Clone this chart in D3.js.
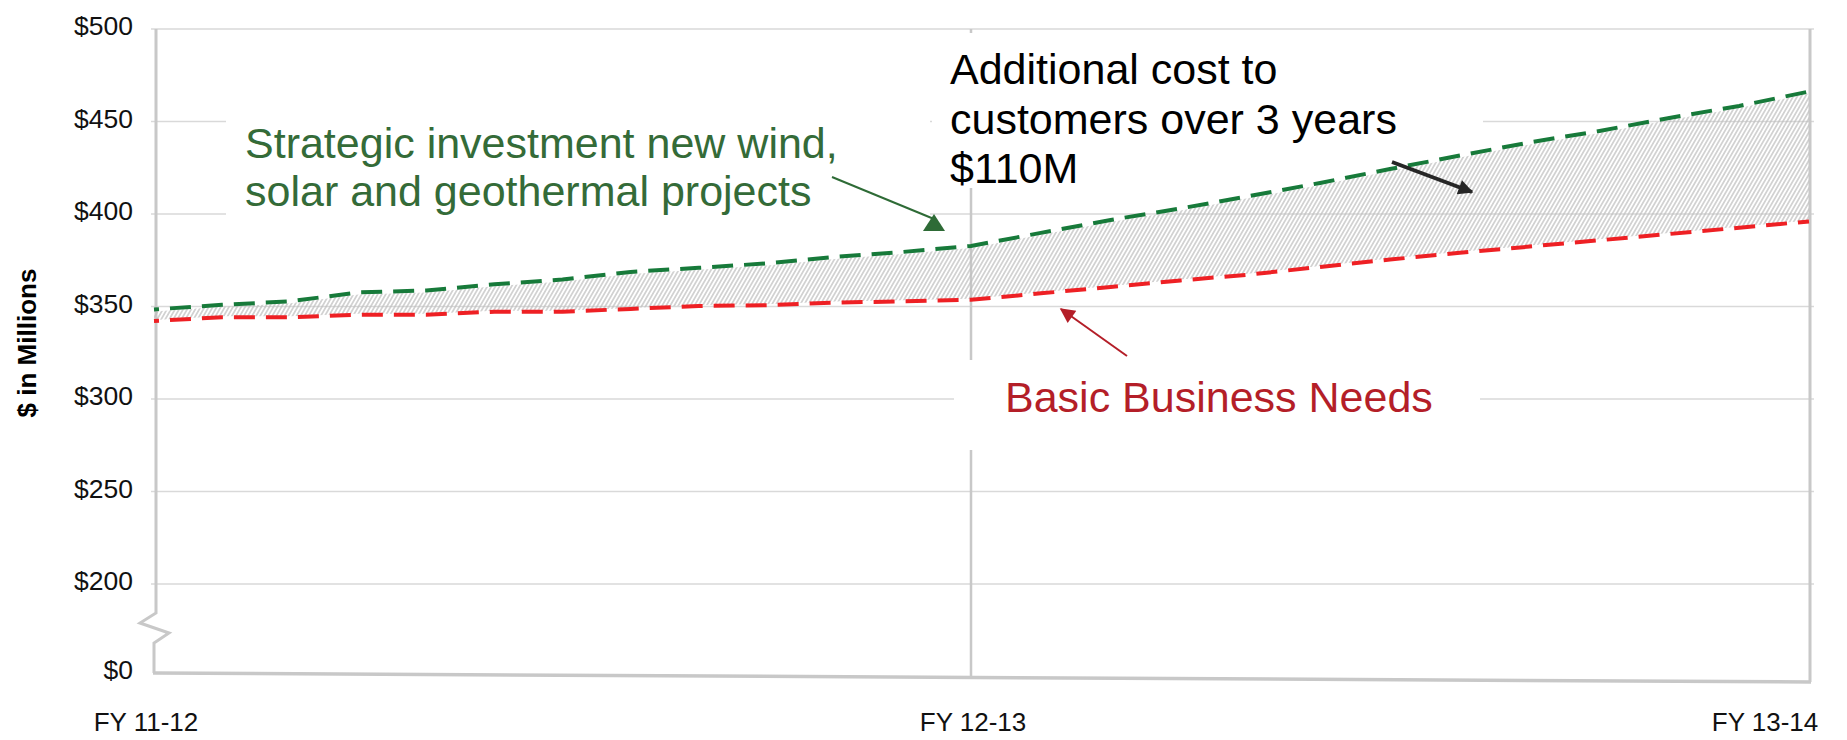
<!DOCTYPE html>
<html>
<head>
<meta charset="utf-8">
<script src="https://cdn.jsdelivr.net/npm/d3@7"></script>
<style>
  body { margin: 0; background: #fff; }
  text { font-family: "Liberation Sans", Arial, sans-serif; }
</style>
</head>
<body>
<svg id="chart" width="1847" height="740"></svg>
<script>
// data (values in $M, one point per month)
const categories = ['FY 11-12', 'FY 12-13', 'FY 13-14']
const categoryMonth = [0, 12, 24]
const months = [0, 1, 2, 3, 4, 5, 6, 7, 8, 9, 10, 11, 12, 13, 14, 15, 16, 17, 18, 19, 20, 21, 22, 23, 24]
const strategic = [348.4, 350.9, 352.8, 357.6, 358.7, 362.0, 364.6, 368.7, 370.9, 373.3, 376.8, 379.5,
  382.7, 389.8, 396.8, 403.0, 409.8, 416.8, 424.3, 431.6, 438.7, 444.9, 451.9, 458.4, 466.2]
const basic = [342.2, 344.2, 344.2, 345.6, 345.6, 347.2, 347.2, 348.7, 350.3, 350.7, 352.1, 352.8,
  353.6, 357.1, 360.6, 364.1, 367.3, 371.4, 375.4, 379.0, 382.4, 385.8, 389.2, 392.6, 396.0]
const yTicks = [0, 200, 250, 300, 350, 400, 450, 500]
const yTitle = '$ in Millions'
const strategicNote = ['Strategic investment new wind,', 'solar and geothermal projects']
const costNote = ['Additional cost to', 'customers over 3 years', '$110M']
const basicNote = ['Basic Business Needs']

const svg = d3.select('#chart')

// broken axis: 0 then 200..500
const x = d3.scaleLinear().domain([0, 12, 24]).range([154, 971, 1809])
const y = d3.scaleLinear().domain([0, 200, 500]).range([673, 584, 29])

const frame = '#c8c8c8'
const grid = '#d9d9d9'

const defs = svg.append('defs')
defs.append('pattern')
  .attr('id', 'hatch')
  .attr('patternUnits', 'userSpaceOnUse')
  .attr('width', 3.5).attr('height', 4)
  .attr('patternTransform', 'rotate(30)')
  .append('line')
  .attr('x1', 1.75).attr('y1', 0).attr('x2', 1.75).attr('y2', 4)
  .attr('stroke', '#bdbdbd').attr('stroke-width', 1.2)

const marker = (id, color) => {
  defs.append('marker')
    .attr('id', id)
    .attr('viewBox', '0 0 10 10')
    .attr('refX', 9).attr('refY', 5)
    .attr('markerUnits', 'userSpaceOnUse')
    .attr('markerWidth', 18).attr('markerHeight', 15)
    .attr('orient', 'auto')
    .append('path')
    .attr('d', 'M0,0L10,5L0,10Z')
    .attr('fill', color)
}
marker('headRed', '#b41e28')
marker('headBlack', '#262626')

// gridlines
svg.append('g')
  .selectAll('line')
  .data(yTicks.filter(d => d > 0))
  .enter()
  .append('line')
  .attr('x1', x(0) - 3).attr('x2', x(24) + 5)
  .attr('y1', d => y(d)).attr('y2', d => y(d))
  .attr('stroke', grid).attr('stroke-width', 1.5)

// axis frame with the break
const y0 = y(0)
svg.append('path')
  .attr('d', d3.line()([[x(0) + 2, y(500)], [x(0) + 2, y0 - 60], [x(0) - 14, y0 - 50],
    [x(0) + 15, y0 - 40], [x(0), y0 - 30], [x(0), y0]]))
  .attr('fill', 'none').attr('stroke', frame).attr('stroke-width', 3)
svg.append('line')
  .attr('x1', x(0) - 1).attr('y1', y0)
  .attr('x2', x(24) + 2).attr('y2', y0 + 9)
  .attr('stroke', frame).attr('stroke-width', 3.5)
svg.append('line')
  .attr('x1', x(24) + 1).attr('y1', y(500))
  .attr('x2', x(24) + 1).attr('y2', y0 + 9)
  .attr('stroke', frame).attr('stroke-width', 3)
svg.append('line')
  .attr('x1', x(12)).attr('y1', y(500))
  .attr('x2', x(12)).attr('y2', y0 + 6)
  .attr('stroke', frame).attr('stroke-width', 2.5)

// y tick labels
svg.append('g')
  .selectAll('text')
  .data(yTicks)
  .enter()
  .append('text')
  .attr('x', 133)
  .attr('y', d => y(d) - 3)
  .attr('text-anchor', 'end')
  .attr('dominant-baseline', 'central')
  .attr('font-size', 26.5)
  .attr('fill', '#111')
  .text(d => '$' + d)

svg.append('text')
  .attr('transform', 'translate(27,343) rotate(-90)')
  .attr('text-anchor', 'middle')
  .attr('dominant-baseline', 'central')
  .attr('font-size', 26)
  .attr('font-weight', 'bold')
  .text(yTitle)

// x labels
svg.append('g')
  .selectAll('text')
  .data(categories)
  .enter()
  .append('text')
  .attr('x', (d, i) => x(categoryMonth[i]) + [-8, 2, -44][i])
  .attr('y', 731)
  .attr('text-anchor', 'middle')
  .attr('font-size', 26)
  .attr('fill', '#111')
  .text(d => d)

// white text boxes sitting over the grid
const boxes = [[226, 95, 704, 130], [932, 33, 551, 155], [954, 360, 526, 90]]
svg.append('g')
  .selectAll('rect')
  .data(boxes)
  .enter()
  .append('rect')
  .attr('x', d => d[0]).attr('y', d => d[1])
  .attr('width', d => d[2]).attr('height', d => d[3])
  .attr('fill', '#fff')

// hatched gap between the two plans
svg.append('path')
  .datum(months)
  .attr('d', d3.area()
    .x(d => x(d))
    .y0(d => y(basic[d]) - 1)
    .y1(d => y(strategic[d]) + 2))
  .attr('fill', 'url(#hatch)')

const line = vals => d3.line().x(d => x(d)).y(d => y(vals[d]))(months)

svg.append('path')
  .attr('d', line(basic))
  .attr('fill', 'none')
  .attr('stroke', '#ee2024').attr('stroke-width', 4)
  .attr('stroke-dasharray', '21,11').attr('stroke-dashoffset', 16)

svg.append('path')
  .attr('d', line(strategic))
  .attr('fill', 'none')
  .attr('stroke', '#177a3a').attr('stroke-width', 4)
  .attr('stroke-dasharray', '21,11').attr('stroke-dashoffset', 16)

// annotations
const note = (lines, x0, y0, dy, color) => {
  svg.append('text')
    .attr('font-size', 43)
    .attr('fill', color)
    .selectAll('tspan')
    .data(lines)
    .enter()
    .append('tspan')
    .attr('x', x0)
    .attr('y', (d, i) => y0 + i * dy)
    .text(d => d)
}
note(strategicNote, 245, 158, 48, '#346b38')
note(costNote, 950, 84, 49.5, '#000')
note(basicNote, 1005, 412, 0, '#b41e28')

// green pointer
svg.append('line')
  .attr('x1', 832).attr('y1', 177).attr('x2', 934).attr('y2', 219)
  .attr('stroke', '#2e6b36').attr('stroke-width', 2)
svg.append('path')
  .attr('d', 'M923,231L945,231L934,214Z')
  .attr('fill', '#2e6b36')

// red pointer
svg.append('line')
  .attr('x1', 1127).attr('y1', 356).attr('x2', 1061).attr('y2', 309)
  .attr('stroke', '#b41e28').attr('stroke-width', 2)
  .attr('marker-end', 'url(#headRed)')

// black pointer
svg.append('line')
  .attr('x1', 1392).attr('y1', 162).attr('x2', 1472).attr('y2', 192)
  .attr('stroke', '#262626').attr('stroke-width', 4)
  .attr('marker-end', 'url(#headBlack)')
</script>
</body>
</html>
